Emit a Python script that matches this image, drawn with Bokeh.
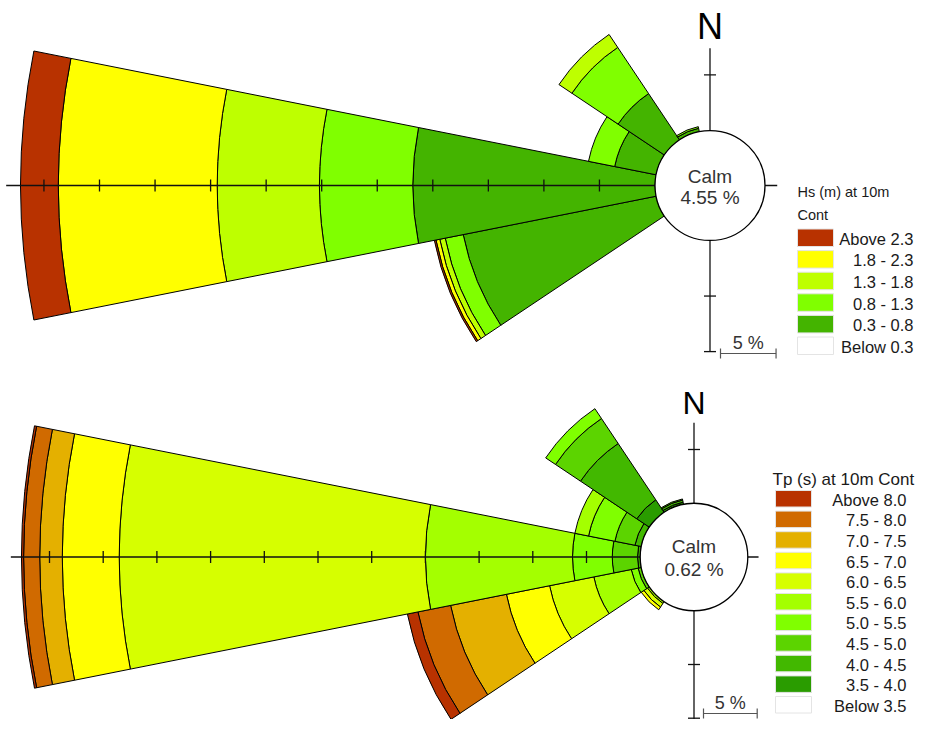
import math
from bokeh.plotting import figure
from bokeh.models import Range1d, ColumnDataSource
from bokeh.core.properties import value
from bokeh.embed import file_html
from bokeh.resources import INLINE

# ---------------- data ----------------
compass = ["N", "NNE", "NE", "ENE", "E", "ESE", "SE", "SSE",
           "S", "SSW", "SW", "WSW", "W", "WNW", "NW", "NNW"]

# Upper rose: significant wave height Hs (m), frequency in %
hs_dirs = ["WSW", "W", "WNW", "NW", "NNW"]
hs_classes = ["Below 0.3", "0.3 - 0.8", "0.8 - 1.3", "1.3 - 1.8", "1.8 - 2.3", "Above 2.3"]
hs_colors = ["#FFFFFF", "#44B400", "#80FF00", "#BEFF00", "#FFFF00", "#B83200"]
hs_below_03 = [0.0, 0.0, 0.0, 0.0, 0.0]
hs_03_08 = [17.7, 21.8, 3.8, 5.0, 0.3]
hs_08_13 = [1.65, 8.4, 2.4, 5.0, 0.15]
hs_13_18 = [0.5, 9.2, 0.0, 1.4, 0.0]
hs_18_23 = [0.35, 14.3, 0.0, 0.0, 0.0]
hs_above_23 = [0.15, 3.4, 0.0, 0.0, 0.0]
hs_calm = 4.55

# Lower rose: peak period Tp (s), frequency in %
tp_dirs = ["SW", "WSW", "W", "WNW", "NW", "NNW"]
tp_classes = ["Below 3.5", "3.5 - 4.0", "4.0 - 4.5", "4.5 - 5.0", "5.0 - 5.5", "5.5 - 6.0",
              "6.0 - 6.5", "6.5 - 7.0", "7.0 - 7.5", "7.5 - 8.0", "Above 8.0"]
tp_colors = ["#FFFFFF", "#2A9C00", "#42B800", "#5CD400", "#80FF00", "#A4FF00",
             "#D6FF00", "#FFFF00", "#E4B000", "#D06A00", "#B83200"]
tp_below_35 = [0.0, 0.0, 0.0, 0.0, 0.0, 0.0]
tp_35_40 = [0.0, 0.0, 0.0, 0.0, 1.4, 0.2]
tp_40_45 = [0.0, 0.0, 0.25, 0.6, 6.3, 0.2]
tp_45_50 = [0.0, 0.3, 2.35, 1.9, 2.8, 0.1]
tp_50_55 = [0.0, 0.65, 3.7, 2.5, 1.1, 0.0]
tp_55_60 = [0.2, 3.55, 13.7, 1.3, 0.0, 0.0]
tp_60_65 = [0.4, 4.2, 28.5, 0.0, 0.0, 0.0]
tp_65_70 = [0.3, 4.1, 5.3, 0.0, 0.0, 0.0]
tp_70_75 = [0.0, 5.3, 2.1, 0.0, 0.0, 0.0]
tp_75_80 = [0.0, 3.1, 1.5, 0.0, 0.0, 0.0]
tp_above_80 = [0.0, 1.0, 0.2, 0.0, 0.0, 0.0]
tp_calm = 0.62

west_ticks = [5, 10, 15, 20, 25, 30, 35, 40, 45, 50, 55]
north_ticks = [5]
south_ticks = [5, 10]

# ---------------- figure ----------------
H = 735  # reference picture height; y is flipped so that the page reads top-down
W_PAGE, H_PAGE = 916, 719
p = figure(width=W_PAGE, height=H_PAGE, x_range=Range1d(0, W_PAGE),
           y_range=Range1d(H - H_PAGE, H), output_backend="svg",
           toolbar_location=None, min_border=0, x_axis_location=None,
           y_axis_location=None, outline_line_color=None)
p.xgrid.visible = False
p.ygrid.visible = False
p.background_fill_color = "white"
p.border_fill_color = "white"

FONT = value("Liberation Sans")


def Y(y_img):
    return H - y_img


def label(x, y_img, txt, size, align="center", color="#333333"):
    p.text(x=[x], y=[Y(y_img)], text=[txt], text_font=FONT, text_font_size=size,
           text_align=align, text_baseline="middle", text_color=color)


def draw_rose(cx, cy_img, r0, k, dirs, layers, colors, calm,
              north_len, south_len, east_len, west_len, n_size, n_mid, calm_mid):
    cy = Y(cy_img)
    xs, ys, inn, out, st, en, col = [], [], [], [], [], [], []
    for j, d in enumerate(dirs):
        b = compass.index(d) * 22.5
        a0 = math.radians(90 - b - 11.25)
        a1 = math.radians(90 - b + 11.25)
        cum = 0.0
        for i, layer in enumerate(layers):
            v = layer[j]
            if v <= 0:
                continue
            xs.append(cx); ys.append(cy)
            inn.append(r0 + cum * k)
            cum += v
            out.append(r0 + cum * k)
            st.append(a0); en.append(a1); col.append(colors[i])
    src = ColumnDataSource(dict(x=xs, y=ys, inner=inn, outer=out, start=st, end=en, color=col))
    p.annular_wedge(x="x", y="y", inner_radius="inner", outer_radius="outer",
                    start_angle="start", end_angle="end", fill_color="color",
                    line_color="black", line_width=1.0, source=src)

    # axes
    ax_col = "#111111"
    p.segment(x0=[cx - (r0 + west_len * k), cx], y0=[cy, cy - (r0 + south_len * k)],
              x1=[cx + r0 + east_len * k, cx], y1=[cy, cy + r0 + north_len * k],
              line_color=ax_col, line_width=1.3)
    wx = [cx - (r0 + t * k) for t in west_ticks]
    p.segment(x0=wx, y0=[cy - 6] * len(wx), x1=wx, y1=[cy + 6] * len(wx),
              line_color=ax_col, line_width=1.3)
    ny = [cy + r0 + t * k for t in north_ticks] + [cy - (r0 + t * k) for t in south_ticks]
    p.segment(x0=[cx - 6] * len(ny), y0=ny, x1=[cx + 6] * len(ny), y1=ny,
              line_color=ax_col, line_width=1.3)

    # calm circle
    p.circle(x=[cx], y=[cy], radius=r0, fill_color="white", line_color="black", line_width=1.3)
    label(cx, calm_mid[0], "Calm", "19px")
    label(cx, calm_mid[1], f"{calm:.2f} %", "19px")
    # north label
    label(cx, n_mid, "N", n_size, color="black")


# upper rose
draw_rose(709.5, 185, 55, 11.11, hs_dirs,
          [hs_below_03, hs_03_08, hs_08_13, hs_13_18, hs_18_23, hs_above_23],
          hs_colors, hs_calm, north_len=7.4, south_len=10, east_len=1.1, west_len=58.4,
          n_size="36px", n_mid=25.5, calm_mid=(175.5, 197))
# lower rose
draw_rose(693.5, 556.5, 53.8, 10.74, tp_dirs,
          [tp_below_35, tp_35_40, tp_40_45, tp_45_50, tp_50_55, tp_55_60, tp_60_65,
           tp_65_70, tp_70_75, tp_75_80, tp_above_80],
          tp_colors, tp_calm, north_len=7.5, south_len=11.2, east_len=1.0, west_len=58.6,
          n_size="32px", n_mid=402, calm_mid=(546, 569))


# scale bars
def scale_bar(x0, y_img, length):
    y = Y(y_img)
    p.segment(x0=[x0, x0, x0 + length], y0=[y, y - 5, y - 5],
              x1=[x0 + length, x0, x0 + length], y1=[y, y + 5, y + 5],
              line_color="#555555", line_width=1.2)
    label(x0 + length / 2, y_img - 10.5, "5 %", "18px")


scale_bar(720, 353, 5 * 11.11)
scale_bar(703, 713, 5 * 10.74)


# legends
def legend(title_lines, title_x, title_mid, title_size, classes, colors,
           sw_left, sw_w, first_top, pitch, sw_h, label_right, label_size):
    for t, m in zip(title_lines, title_mid):
        label(title_x, m, t, title_size, align="left", color="#1a1a1a")
    order = list(reversed(range(len(classes))))
    tops = [first_top + n * pitch for n in range(len(order))]
    p.quad(left=[sw_left] * len(order), right=[sw_left + sw_w] * len(order),
           top=[Y(t) for t in tops], bottom=[Y(t + sw_h) for t in tops],
           fill_color=[colors[i] for i in order], line_color="#e4e4e4", line_width=1)
    p.text(x=[label_right] * len(order), y=[Y(t + sw_h / 2 + 1) for t in tops],
           text=[classes[i] for i in order], text_font=FONT, text_font_size=label_size,
           text_align="right", text_baseline="middle", text_color="#1a1a1a")


legend(["Hs (m) at 10m", "Cont"], 797, [191.5, 214.5], "14.5px", hs_classes, hs_colors,
       797, 36, 228.5, 21.6, 17.5, 913, "16.5px")
legend(["Tp (s) at 10m Cont"], 772, [479], "17px", tp_classes, tp_colors,
       775, 36, 490, 20.6, 16.5, 906, "16.5px")

open("out.html", "w").write(file_html(p, INLINE))
